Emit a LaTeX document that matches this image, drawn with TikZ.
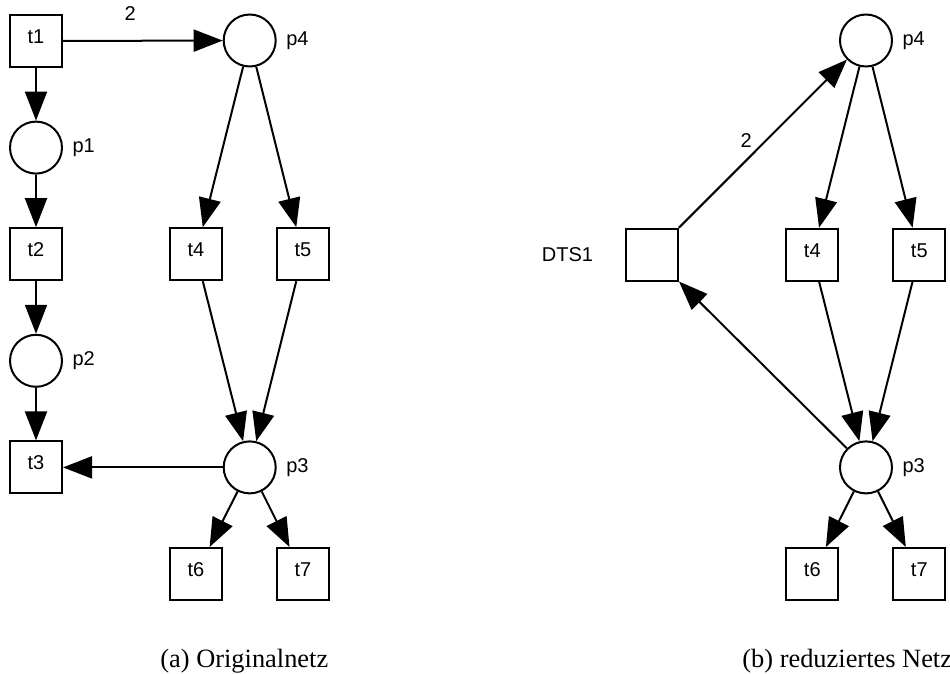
\documentclass[tikz,border=0pt]{standalone}
\usepackage{fontspec}
\setmainfont{Liberation Sans}
\newfontfamily\capfont{Liberation Serif}
\usetikzlibrary{arrows.meta}
\begin{document}
\begin{tikzpicture}[x=0.5pt,y=-0.5pt,
  trans/.style={draw, line width=1pt, minimum size=26pt, inner sep=0pt,
    font=\fontsize{10}{12}\selectfont, text depth=4.5pt},
  place/.style={draw, circle, line width=1pt, minimum size=26pt, inner sep=0pt},
  plbl/.style={anchor=west, inner sep=0pt, font=\fontsize{10}{12}\selectfont},
  wt/.style={inner sep=0pt, font=\fontsize{10}{12}\selectfont},
  arc/.style={line width=1pt, -{Triangle[length=14.5pt,width=11pt]}},
  caption/.style={anchor=base west, inner sep=0pt, font=\capfont\fontsize{13.2}{15}\selectfont}]
\useasboundingbox (0,0) rectangle (950,674);

% ---- original net ----
\node[trans] (t1) at (36,41) {t1};
\node[place] (p1) at (36,147.6) {};
\node[trans] (t2) at (36,254.2) {t2};
\node[place] (p2) at (36,360.8) {};
\node[trans] (t3) at (36,467.4) {t3};
\node[place] (p4) at (249.7,40.5) {};
\node[trans] (t4) at (196,254.2) {t4};
\node[trans] (t5) at (303,254.2) {t5};
\node[place] (p3) at (249.7,467.4) {};
\node[trans] (t6) at (196,574) {t6};
\node[trans] (t7) at (303,574) {t7};

\node[plbl] (lp1) at ([xshift=4.6pt]p1.east) {p1};
\node[plbl] (lp2) at ([xshift=4.6pt]p2.east) {p2};
\node[plbl] (lp3) at ([xshift=4.6pt]p3.east) {p3};
\node[plbl] (lp4) at ([xshift=4.6pt]p4.east) {p4};

\draw[arc] (t1) -- node[wt, pos=0.42, above=9.5pt] (w1) {2} (p4);
\draw[arc] (t1) -- (p1);
\draw[arc] (p1) -- (t2);
\draw[arc] (t2) -- (p2);
\draw[arc] (p2) -- (t3);
\draw[arc] (p4) -- (t4);
\draw[arc] (p4) -- (t5);
\draw[arc] (t4) -- (p3);
\draw[arc] (t5) -- (p3);
\draw[arc] (p3) -- (t3);
\draw[arc] (p3) -- (t6);
\draw[arc] (p3) -- (t7);

% ---- reduced net ----
\node[trans] (dts) at (652,254.7) {};
\node[place] (rp4) at (866,40.5) {};
\node[trans] (rt4) at (812.3,254.7) {t4};
\node[trans] (rt5) at (919.3,254.7) {t5};
\node[place] (rp3) at (866,467.4) {};
\node[trans] (rt6) at (812.3,574) {t6};
\node[trans] (rt7) at (919.3,574) {t7};

\node[plbl, anchor=east] (ldts) at ([xshift=-15.8pt]dts.west) {DTS1};
\node[plbl] (lrp3) at ([xshift=4.6pt]rp3.east) {p3};
\node[plbl] (lrp4) at ([xshift=4.6pt]rp4.east) {p4};

\draw[arc] (dts) -- node[wt, pos=0.4, above=6pt] (w2) {2} (rp4);
\draw[arc] (rp4) -- (rt4);
\draw[arc] (rp4) -- (rt5);
\draw[arc] (rt4) -- (rp3);
\draw[arc] (rt5) -- (rp3);
\draw[arc] (rp3) -- (dts);
\draw[arc] (rp3) -- (rt6);
\draw[arc] (rp3) -- (rt7);

% ---- captions ----
\node[caption] (capa) at (160,668) {(a) Originalnetz};
\node[caption] (capb) at (742,668) {(b) reduziertes Netz};
\end{tikzpicture}
\end{document}
